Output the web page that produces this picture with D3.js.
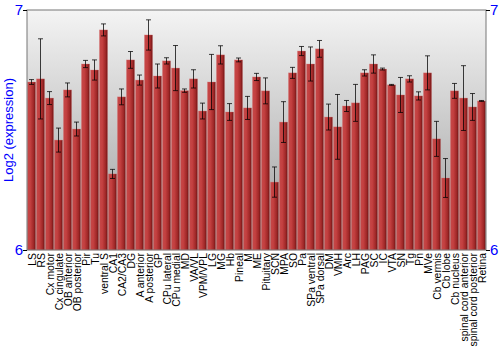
<!DOCTYPE html>
<meta charset="utf-8">
<style>
  body { margin: 0; background: #fff; }
  svg { font-family: "Liberation Sans", Arial, sans-serif; }
  .xlab { font-size: 10.4px; fill: #000; }
  .ylab { font-size: 13px; fill: #0000ff; }
</style>
<body>
<script src="https://d3js.org/d3.v7.min.js"></script>
<script>

// tissues on the x axis
var tissues = ["LS","RS","Cx motor","Cx cingulate","OB anterior","OB posterior","Pir","Tu",
  "ventral S","CA1","CA2/CA3","DG","A anterior","A posterior","GP","CPu lateral","CPu medial",
  "MD","VA/VL","VPM/VPL","LG","MG","Hb","Pineal","M","ME","Pituitary","SCN","MPA","SO","Pa",
  "SPa ventral","SPa dorsal","DM","VMH","Arc","LH","PAG","SC","IC","VTA","SN","Tg","Pn","MVe",
  "Cb vermis","Cb lobe","Cb nucleus","spinal cord anterior","spinal cord posterior","Retina"];

// mean log2 expression
var means = [6.700,6.713,6.633,6.458,6.667,6.504,6.775,6.750,6.917,6.317,6.638,6.792,6.708,
  6.896,6.725,6.788,6.758,6.664,6.713,6.579,6.700,6.813,6.575,6.792,6.592,6.721,6.663,6.283,
  6.533,6.738,6.829,6.775,6.838,6.554,6.513,6.600,6.613,6.738,6.775,6.754,6.688,6.646,6.713,
  6.642,6.738,6.463,6.300,6.663,6.633,6.596,6.621];

// error (half length)
var errs = [0.010,0.167,0.027,0.050,0.029,0.029,0.015,0.042,0.025,0.019,0.033,0.035,0.021,
  0.063,0.050,0.013,0.094,0.007,0.038,0.033,0.115,0.038,0.035,0.008,0.048,0.015,0.054,0.063,
  0.085,0.023,0.019,0.071,0.035,0.054,0.135,0.023,0.077,0.013,0.038,0.004,0.002,0.073,0.013,
  0.017,0.071,0.073,0.081,0.031,0.135,0.056,0.002];

var yTicks = [6, 7];

var W = 500, H = 350;
var m = {top: 10, right: 14, bottom: 100, left: 27};
var pw = W - m.left - m.right, ph = H - m.top - m.bottom;

var data = tissues.map(function(t, i) { return {name: t, v: means[i], e: errs[i]}; });

var x = d3.scaleBand().domain(tissues).range([0, pw]).paddingInner(0.1).paddingOuter(0.05);
var y = d3.scaleLinear().domain([6, 7]).range([ph, 0]);

var svg = d3.select("body").append("svg").attr("width", W).attr("height", H);

var defs = svg.append("defs");
var bg = defs.append("linearGradient").attr("id", "bg").attr("x1", 0).attr("y1", 0).attr("x2", 0).attr("y2", 1);
bg.append("stop").attr("offset", "0%").attr("stop-color", "#f4f4f4");
bg.append("stop").attr("offset", "100%").attr("stop-color", "#9c9c9c");

var bar = defs.append("linearGradient").attr("id", "bar").attr("x1", 0).attr("y1", 0).attr("x2", 1).attr("y2", 0);
bar.append("stop").attr("offset", "0%").attr("stop-color", "#c44848");
bar.append("stop").attr("offset", "35%").attr("stop-color", "#c44040");
bar.append("stop").attr("offset", "75%").attr("stop-color", "#a02828");
bar.append("stop").attr("offset", "100%").attr("stop-color", "#6e1414");

var g = svg.append("g").attr("transform", "translate(" + m.left + "," + m.top + ")");

g.append("rect").attr("width", pw).attr("height", ph).attr("fill", "url(#bg)");

g.selectAll("rect.bar")
  .data(data)
  .enter().append("rect")
    .attr("class", "bar")
    .attr("x", function(d) { return x(d.name); })
    .attr("y", function(d) { return y(d.v); })
    .attr("width", x.bandwidth())
    .attr("height", function(d) { return ph - y(d.v); })
    .attr("fill", "url(#bar)")
    .attr("stroke", "rgba(220,120,120,0.5)")
    .attr("stroke-width", 0.6);

// error bars
var eb = g.selectAll("g.err").data(data).enter().append("g")
  .attr("class", "err")
  .attr("transform", function(d) { return "translate(" + (x(d.name) + x.bandwidth() / 2) + ",0)"; })
  .attr("stroke", "#000").attr("stroke-opacity", 0.75).attr("stroke-width", 1);
eb.append("line").attr("y1", function(d) { return y(d.v + d.e); }).attr("y2", function(d) { return y(d.v - d.e); });
eb.append("line").attr("x1", -2.5).attr("x2", 2.5)
  .attr("y1", function(d) { return y(d.v + d.e); }).attr("y2", function(d) { return y(d.v + d.e); });
eb.append("line").attr("x1", -2.5).attr("x2", 2.5)
  .attr("y1", function(d) { return y(d.v - d.e); }).attr("y2", function(d) { return y(d.v - d.e); });

// frame
g.append("rect").attr("width", pw).attr("height", ph)
  .attr("fill", "none").attr("stroke", "#777").attr("stroke-width", 1);

// axes
var left = g.append("g").call(d3.axisLeft(y).tickValues(yTicks).tickSize(4).tickFormat(d3.format("d")));
var right = g.append("g").attr("transform", "translate(" + pw + ",0)")
  .call(d3.axisRight(y).tickValues(yTicks).tickSize(4).tickFormat(d3.format("d")));
[left, right].forEach(function(a) {
  a.select(".domain").remove();
  a.selectAll(".tick line").attr("stroke", "#000");
  a.selectAll("text").attr("fill", "#0000ff").style("font-size", "15px")
    .style("font-family", "'Liberation Sans', Arial, sans-serif");
});
left.selectAll("text").attr("x", -4);
right.selectAll("text").attr("x", 4);

// x labels
g.selectAll("text.xlab").data(tissues).enter().append("text")
  .attr("class", "xlab")
  .attr("text-anchor", "end")
  .attr("transform", function(d) {
    return "translate(" + (x(d) + x.bandwidth() / 2 + 4) + "," + (ph + 3) + ") rotate(-90)";
  })
  .text(function(d) { return d; });

svg.append("text").attr("class", "ylab")
  .attr("text-anchor", "middle")
  .attr("transform", "translate(13," + (m.top + ph / 2) + ") rotate(-90)")
  .text("Log2 (expression)");

</script>
</body>
</html>
